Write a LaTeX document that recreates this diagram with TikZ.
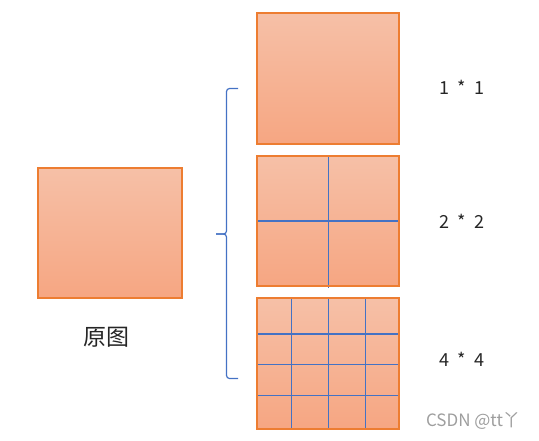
\documentclass[tikz,border=0pt]{standalone}
\usepackage{fontspec}
\setmainfont{Noto Sans CJK SC}
\begin{document}
\begin{tikzpicture}[x=1pt,y=-1pt,
  cellfill/.style={top color=boxtop,bottom color=boxbot,draw=none},
  boxborder/.style={draw=boxedge,line width=1.2pt},
  gridline/.style={draw=gridblue,line width=1.1pt},
  lbl/.style={font=\fontsize{18}{20}\selectfont,text=black!85,inner sep=0pt},
  bracestyle/.style={draw=gridblue,line width=1.2pt,rounded corners=3pt}]
\definecolor{boxtop}{RGB}{246,192,167}
\definecolor{boxbot}{RGB}{246,166,130}
\definecolor{boxedge}{RGB}{237,125,49}
\definecolor{gridblue}{RGB}{68,114,196}
\useasboundingbox (0,0) rectangle (539,440);
% original
\shade[cellfill] (38,168) rectangle (182,298);
\draw[boxborder] (38,168) rectangle (182,298);
\node[lbl,font=\fontsize{23}{25}\selectfont] (orig) at (106,337) {原图};
% 1x1
\shade[cellfill] (257,13) rectangle (399,144);
\draw[boxborder] (257,13) rectangle (399,144);
\node[lbl] (l1) at (462,87) {1\hspace{8pt}*\hspace{8pt}1};
% 2x2
\shade[cellfill] (257,156) rectangle (399,286);
\draw[gridline] (257,221) -- (399,221);
\draw[gridline] (328.5,156) -- (328.5,287.5);
\draw[boxborder] (257,156) rectangle (399,286);
\node[lbl] (l2) at (462,221) {2\hspace{8pt}*\hspace{8pt}2};
% 4x4
\shade[cellfill] (257,298) rectangle (399,429);
\draw[gridline] (257,334) -- (399,334);
\draw[gridline] (257,364.5) -- (399,364.5);
\draw[gridline] (257,395.5) -- (399,395.5);
\draw[gridline] (291.5,298) -- (291.5,429);
\draw[gridline] (328.5,298) -- (328.5,429);
\draw[gridline] (365.5,298) -- (365.5,429);
\draw[boxborder] (257,298) rectangle (399,429);
\node[lbl] (l4) at (462,359) {4\hspace{8pt}*\hspace{8pt}4};
% brace
\coordinate (btop) at (238,88.5);
\coordinate (bbot) at (238,378.5);
\coordinate (btip) at (216,234);
\draw[bracestyle] (btop) -- (226.5,88.5) -- (226.5,234) -- (btip);
\draw[bracestyle] (btip) -- (226.5,234) -- (226.5,378.5) -- (bbot);
% watermark
\node[lbl,font=\fontsize{17}{19}\selectfont,text=black!38] (wm) at (473,421) {CSDN @tt丫};
\end{tikzpicture}
\end{document}
